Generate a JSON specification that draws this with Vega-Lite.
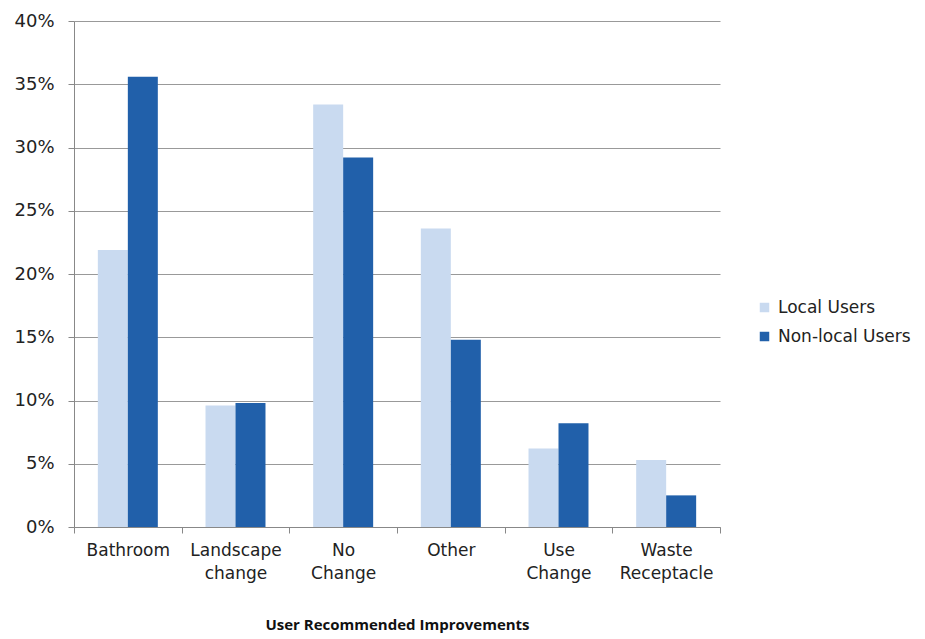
{
  "$schema": "https://vega.github.io/schema/vega-lite/v6.json",
  "width": 646,
  "height": 506,
  "autosize": "none",
  "padding": {"left": 74, "top": 21, "right": 205, "bottom": 112},
  "background": "white",
  "data": {
    "values": [
      {"category": "Bathroom", "group": "Local Users", "value": 0.219},
      {"category": "Bathroom", "group": "Non-local Users", "value": 0.356},
      {"category": "Landscape change", "group": "Local Users", "value": 0.096},
      {"category": "Landscape change", "group": "Non-local Users", "value": 0.098},
      {"category": "No Change", "group": "Local Users", "value": 0.334},
      {"category": "No Change", "group": "Non-local Users", "value": 0.292},
      {"category": "Other", "group": "Local Users", "value": 0.236},
      {"category": "Other", "group": "Non-local Users", "value": 0.148},
      {"category": "Use Change", "group": "Local Users", "value": 0.062},
      {"category": "Use Change", "group": "Non-local Users", "value": 0.082},
      {"category": "Waste Receptacle", "group": "Local Users", "value": 0.053},
      {"category": "Waste Receptacle", "group": "Non-local Users", "value": 0.025}
    ]
  },
  "mark": {"type": "bar"},
  "encoding": {
    "x": {
      "field": "category",
      "type": "nominal",
      "sort": null,
      "scale": {"paddingInner": 0, "paddingOuter": 0},
      "axis": {
        "title": "User Recommended Improvements",
        "titleFont": "Open Sans",
        "titleFontWeight": "bold",
        "titleFontSize": 15,
        "titleColor": "#111",
        "titlePadding": 36,
        "labelAngle": 0,
        "labelExpr": "split(datum.label, ' ')",
        "labelFont": "DejaVu Sans",
        "labelFontSize": 17,
        "labelColor": "#222",
        "labelLineHeight": 23,
        "labelPadding": 9,
        "labelBaseline": "top",
        "domainColor": "#888",
        "tickColor": "#888",
        "tickSize": 6,
        "tickBand": "extent",
        "grid": false
      }
    },
    "xOffset": {
      "field": "group",
      "type": "nominal",
      "scale": {"paddingInner": 0, "paddingOuter": 0.795}
    },
    "y": {
      "field": "value",
      "type": "quantitative",
      "scale": {"domain": [0, 0.4], "nice": false},
      "axis": {
        "title": null,
        "format": ".0%",
        "values": [0, 0.05, 0.1, 0.15, 0.2, 0.25, 0.3, 0.35, 0.4],
        "labelFont": "DejaVu Sans",
        "labelFontSize": 18,
        "labelColor": "#222",
        "labelPadding": 14,
        "domainColor": "#888",
        "tickColor": "#888",
        "tickSize": 6,
        "gridColor": "#999",
        "gridWidth": 1
      }
    },
    "color": {
      "field": "group",
      "type": "nominal",
      "scale": {"domain": ["Local Users", "Non-local Users"], "range": ["#c9daf0", "#2160aa"]},
      "legend": {
        "title": null,
        "orient": "none",
        "legendX": 682,
        "legendY": 278,
        "symbolType": "square",
        "symbolSize": 90,
        "symbolStrokeWidth": 0,
        "labelFont": "DejaVu Sans",
        "labelFontSize": 17,
        "labelColor": "#222",
        "rowPadding": 11,
        "labelOffset": 5
      }
    }
  },
  "config": {"view": {"stroke": null}}
}
